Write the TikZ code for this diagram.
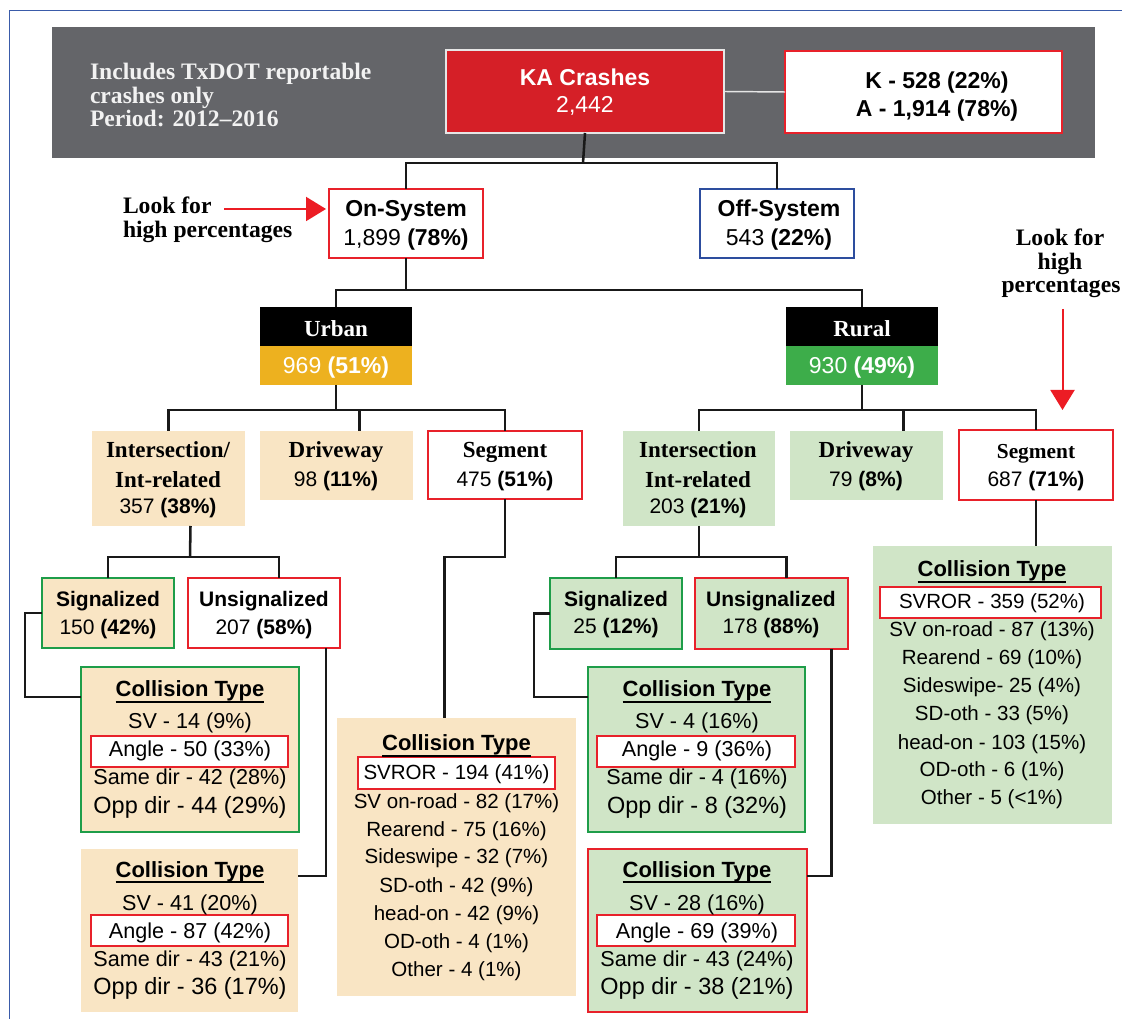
\documentclass[tikz,border=0pt]{standalone}
\usepackage{fontspec}
\setmainfont{Liberation Serif}
\setsansfont{Liberation Sans}
\usetikzlibrary{arrows.meta,calc}
\definecolor{frameblue}{HTML}{3A5BA9}
\definecolor{bannergray}{HTML}{646569}
\definecolor{kared}{HTML}{D51F27}
\definecolor{kaborder}{HTML}{E6E6E6}
\definecolor{bred}{HTML}{E8212A}
\definecolor{offblue}{HTML}{2D4D9E}
\definecolor{gold}{HTML}{EDB11F}
\definecolor{rgreen}{HTML}{3DAD4A}
\definecolor{peach}{HTML}{F9E5C4}
\definecolor{lgreen}{HTML}{D0E5C7}
\definecolor{gborder}{HTML}{1E9D49}
\definecolor{ltext}{HTML}{F2F2F2}
\definecolor{arrred}{HTML}{EC1C24}
\newcommand\mybox[6]{\node[box,#1, minimum width={(#4-#2)*0.75pt}, minimum height={(#5-#3)*0.75pt}] (#6) at ({(#2+#4)/2},{(#3+#5)/2}) {};}
\newcommand\tx[5][]{\node[txt,#1] (#2) at (#3,#4) {#5};}
\newcommand\ctitle[3]{\node[txt,ct] (#1) at (#2,#3) {Collision Type};
  \draw[ul] ([yshift=-3.9pt]#1.base west) -- ([yshift=-3.9pt]#1.base east);}
\begin{document}
\begin{tikzpicture}[x=0.75pt,y=-0.75pt,
  box/.style={shape=rectangle, inner sep=0pt, outer sep=0pt, line width=1.7pt},
  hl/.style={fill=white, draw=bred, line width=1.5pt},
  txt/.style={anchor=base, inner sep=0pt, outer sep=0pt},
  conn/.style={draw=black!90, line width=1.9pt},
  ul/.style={draw=black, line width=1.5pt},
  redarrow/.style={draw=arrred, line width=1.5pt, -{Triangle[length=15pt,width=18pt]}},
  ser/.style={font=\rmfamily\bfseries\fontsize{17.25pt}{17.25pt}\selectfont},
  serl/.style={font=\rmfamily\bfseries\fontsize{17.7pt}{17.7pt}\selectfont},
  sers/.style={font=\rmfamily\bfseries\fontsize{16pt}{16pt}\selectfont},
  fb/.style={font=\sffamily\bfseries\fontsize{17.25pt}{17.25pt}\selectfont},
  fn/.style={font=\sffamily\fontsize{17.25pt}{17.25pt}\selectfont},
  fsn/.style={font=\sffamily\fontsize{15.75pt}{15.75pt}\selectfont},
  fsb/.style={font=\sffamily\bfseries\fontsize{15.75pt}{15.75pt}\selectfont},
  ct/.style={font=\sffamily\bfseries\fontsize{16.5pt}{16.5pt}\selectfont},
  cl/.style={font=\sffamily\fontsize{16.2pt}{16.2pt}\selectfont},
  clo/.style={font=\sffamily\fontsize{17.6pt}{17.6pt}\selectfont},
  cls/.style={font=\sffamily\fontsize{15.4pt}{15.4pt}\selectfont}
]
\useasboundingbox (0,0) rectangle (1122,1019);
\fill[white] (0,0) rectangle (1122,1019);
% frame
\draw[frameblue, line width=1.1pt] (9.5,1019) -- (9.5,10.5) -- (1122,10.5);
% banner
\mybox{fill=bannergray, line width=0pt}{52}{27}{1095}{158}{banner}
\tx[serl, anchor=base west, text=ltext]{b1}{90}{80}{Includes TxDOT reportable}
\tx[serl, anchor=base west, text=ltext]{b2}{90}{103.5}{crashes only}
\tx[serl, anchor=base west, text=ltext]{b3}{90}{127}{Period: 2012--2016}
% KA
\mybox{fill=kared, draw=kaborder, line width=1.1pt}{446}{50}{724}{133}{ka}
\tx[fb, text=white]{kat1}{585}{86}{KA Crashes}
\tx[fn, text=white]{kat2}{585}{113}{2,442}
\mybox{fill=white, draw=bred}{785}{51}{1062}{133}{kab}
\tx[fb]{kab1}{937}{89}{K - 528 (22\%)}
\tx[fb]{kab2}{937}{117}{A - 1,914 (78\%)}
\draw[draw=kaborder, line width=1.1pt] (ka.east) -- (kab.west);
% level 1
\mybox{fill=white, draw=bred}{329}{189}{483}{258}{on}
\tx[fb]{on1}{406}{217}{On-System}
\tx[fn]{on2}{406}{246}{1,899 \textbf{(78\%)}}
\mybox{fill=white, draw=offblue}{700}{189}{854}{258}{off}
\tx[fb]{off1}{779}{217}{Off-System}
\tx[fn]{off2}{779}{246}{543 \textbf{(22\%)}}
\coordinate (j1) at (583,163);
\draw[conn] (ka.south) -- (j1);
\draw[conn] (on.north) |- (j1) -| (off.north);
% left annotation
\tx[serl, anchor=base west]{la}{123}{214}{Look for}
\tx[serl, anchor=base west]{lb}{123}{238}{high percentages}
\coordinate (la1) at (224,209);
\coordinate (la2) at (326,209);
\draw[redarrow] (la1) -- (la2);
% level 2
\mybox{fill=black, line width=0pt}{260}{307}{412}{346}{urbanh}
\mybox{fill=gold, line width=0pt}{260}{346}{412}{385}{urban}
\tx[ser, text=white]{ur1}{336}{337}{Urban}
\tx[fn, text=white]{ur2}{336}{374}{969 \textbf{(51\%)}}
\mybox{fill=black, line width=0pt}{786}{307}{938}{346}{ruralh}
\mybox{fill=rgreen, line width=0pt}{786}{346}{938}{385}{rural}
\tx[ser, text=white]{ru1}{862}{337}{Rural}
\tx[fn, text=white]{ru2}{862}{374}{930 \textbf{(49\%)}}
\coordinate (j2) at (406,290);
\draw[conn] (on.south) -- (j2);
\draw[conn] (urbanh.north) |- (j2) -| (ruralh.north);
% right annotation
\tx[serl]{ra}{1060}{246}{Look for}
\tx[serl]{rb}{1060}{269.5}{high}
\tx[serl]{rc}{1061}{293}{percentages}
\coordinate (ra1) at (1062.5,309);
\coordinate (ra2) at (1062.5,410);
\draw[redarrow] (ra1) -- (ra2);
% level 3 urban
\mybox{fill=peach, line width=0pt}{92}{431}{245}{526}{uint}
\tx[ser]{ui1}{168}{458}{Intersection/}
\tx[ser]{ui2}{168}{488}{Int-related}
\tx[fsn]{ui3}{168}{514}{357 \textbf{(38\%)}}
\mybox{fill=peach, line width=0pt}{260}{431}{413}{500}{udrv}
\tx[ser]{ud1}{336}{458}{Driveway}
\tx[fsn]{ud2}{336}{487}{98 \textbf{(11\%)}}
\mybox{fill=white, draw=bred}{428}{431}{582}{499}{useg}
\tx[ser]{us1}{505}{458}{Segment}
\tx[fsn]{us2}{505}{487}{475 \textbf{(51\%)}}
\coordinate (j3) at (336,410);
\draw[conn] (urban.south) -- (j3);
\draw[conn] (uint.north) |- (j3) -| (useg.north);
\draw[conn] ($(udrv.north)+(23,0)$) |- (j3);
% level 3 rural
\mybox{fill=lgreen, line width=0pt}{623}{431}{775}{526}{rint}
\tx[ser]{ri1}{698}{458}{Intersection}
\tx[ser]{ri2}{698}{488}{Int-related}
\tx[fsn]{ri3}{698}{514}{203 \textbf{(21\%)}}
\mybox{fill=lgreen, line width=0pt}{790}{431}{943}{500}{rdrv}
\tx[ser]{rd1}{866}{458}{Driveway}
\tx[fsn]{rd2}{866}{487}{79 \textbf{(8\%)}}
\mybox{fill=white, draw=bred}{959}{430}{1113}{500}{rseg}
\tx[sers]{rs1}{1036}{459}{Segment}
\tx[fsn]{rs2}{1036}{487}{687 \textbf{(71\%)}}
\coordinate (j4) at (862,410);
\draw[conn] (rural.south) -- (j4);
\draw[conn] (rint.north) |- (j4) -| (rseg.north);
\draw[conn] ($(rdrv.north)+(37,0)$) |- (j4);
% level 4 urban
\mybox{fill=peach, draw=gborder}{42}{578}{174}{648}{usig}
\tx[fsb]{usg1}{108}{607}{Signalized}
\tx[fsn]{usg2}{108}{635}{150 \textbf{(42\%)}}
\mybox{fill=white, draw=bred}{188}{578}{340}{648}{uuns}
\tx[fsb]{uun1}{264}{607}{Unsignalized}
\tx[fsn]{uun2}{264}{635}{207 \textbf{(58\%)}}
\coordinate (j5) at (190,557);
\draw[conn] ($(uint.south)+(22,0)$) -- (j5);
\draw[conn] (usig.north) |- (j5) -| ($(uuns.north)+(15,0)$);
% level 4 rural
\mybox{fill=lgreen, draw=gborder}{550}{578}{682}{649}{rsig}
\tx[fsb]{rsg1}{616}{607}{Signalized}
\tx[fsn]{rsg2}{616}{634}{25 \textbf{(12\%)}}
\mybox{fill=lgreen, draw=bred}{695}{578}{848}{649}{runs}
\tx[fsb]{run1}{771}{607}{Unsignalized}
\tx[fsn]{run2}{771}{634}{178 \textbf{(88\%)}}
\coordinate (j6) at (699,557);
\draw[conn] (rint.south) -- (j6);
\draw[conn] (rsig.north) |- (j6) -| ($(runs.north)+(15,0)$);
% collision boxes
\mybox{fill=peach, draw=gborder}{81}{667}{299}{832}{ucs1}
\mybox{fill=peach, line width=0pt}{81}{849}{298}{1012}{ucs2}
\mybox{fill=peach, line width=0pt}{337}{718}{576}{996}{ucs}
\mybox{fill=lgreen, draw=gborder}{588}{667}{805}{832}{rcs1}
\mybox{fill=lgreen, draw=bred}{588}{849}{807}{1012}{rcs2}
\mybox{fill=lgreen, line width=0pt}{873}{546}{1112}{824}{rcs}
% connectors to collision boxes
\coordinate (c1) at ($(ucs1.north west)+(0,30)$);
\draw[conn] (usig.west) -- ++(-17,0) |- (c1);
\coordinate (c2) at ($(rcs1.north west)+(0,30)$);
\draw[conn] (rsig.west) -- ++(-16,0) |- (c2);
\coordinate (c3) at ($(ucs2.north east)+(0,27)$);
\draw[conn] ($(uuns.south)+(62,0)$) |- (c3);
\coordinate (c4) at ($(rcs2.north east)+(0,27)$);
\draw[conn] ($(runs.south)+(60,0)$) |- (c4);
\draw[conn] (useg.south) -- ++(0,58) -| ($(ucs.north)+(-12,0)$);
\draw[conn] (rseg.south) -- (rseg.south |- rcs.north);
% highlight boxes
\mybox{hl}{91}{736}{288}{767}{ua1}
\mybox{hl}{91}{915}{288}{946}{ua2}
\mybox{hl}{597}{736}{795}{767}{rag1}
\mybox{hl}{597}{915}{795}{946}{rag2}
\mybox{hl}{358}{757}{555}{789}{usv}
\mybox{hl}{880}{587}{1101}{618}{rsv}
% urban signalized collision
\ctitle{ct1}{190}{697}
\tx[cl]{a1}{190}{729}{SV - 14 (9\%)}
\tx[cl]{a2}{190}{757}{Angle - 50 (33\%)}
\tx[cl]{a3}{190}{785}{Same dir - 42 (28\%)}
\tx[clo]{a4}{190}{813}{Opp dir - 44 (29\%)}
% urban unsignalized collision
\ctitle{ct2}{190}{877}
\tx[cl]{b5}{190}{910}{SV - 41 (20\%)}
\tx[cl]{b6}{190}{938}{Angle - 87 (42\%)}
\tx[cl]{b7}{190}{966}{Same dir - 43 (21\%)}
\tx[clo]{b8}{190}{994}{Opp dir - 36 (17\%)}
% rural signalized collision
\ctitle{ct3}{697}{697}
\tx[cl]{c5}{697}{729}{SV - 4 (16\%)}
\tx[cl]{c6}{697}{757}{Angle - 9 (36\%)}
\tx[cl]{c7}{697}{785}{Same dir - 4 (16\%)}
\tx[clo]{c8}{697}{813}{Opp dir - 8 (32\%)}
% rural unsignalized collision
\ctitle{ct4}{697}{877}
\tx[cl]{d5}{697}{910}{SV - 28 (16\%)}
\tx[cl]{d6}{697}{938}{Angle - 69 (39\%)}
\tx[cl]{d7}{697}{966}{Same dir - 43 (24\%)}
\tx[clo]{d8}{697}{994}{Opp dir - 38 (21\%)}
% urban segment collision
\ctitle{ct5}{456.5}{751}
\tx[cls]{e1}{456.5}{780}{SVROR - 194 (41\%)}
\tx[cls]{e2}{456.5}{808}{SV on-road - 82 (17\%)}
\tx[cls]{e3}{456.5}{836}{Rearend - 75 (16\%)}
\tx[cls]{e4}{456.5}{864}{Sideswipe - 32 (7\%)}
\tx[cls]{e5}{456.5}{892}{SD-oth - 42 (9\%)}
\tx[cls]{e6}{456.5}{920}{head-on - 42 (9\%)}
\tx[cls]{e7}{456.5}{948}{OD-oth - 4 (1\%)}
\tx[cls]{e8}{456.5}{976}{Other - 4 (1\%)}
% rural segment collision
\ctitle{ct6}{992}{577}
\tx[cls]{f1}{992}{609}{SVROR - 359 (52\%)}
\tx[cls]{f2}{992}{637}{SV on-road - 87 (13\%)}
\tx[cls]{f3}{992}{665}{Rearend - 69 (10\%)}
\tx[cls]{f4}{992}{693}{Sideswipe- 25 (4\%)}
\tx[cls]{f5}{992}{721}{SD-oth - 33 (5\%)}
\tx[cls]{f6}{992}{749}{head-on - 103 (15\%)}
\tx[cls]{f7}{992}{777}{OD-oth - 6 (1\%)}
\tx[cls]{f8}{992}{804}{Other - 5 (<1\%)}
\end{tikzpicture}
\end{document}
